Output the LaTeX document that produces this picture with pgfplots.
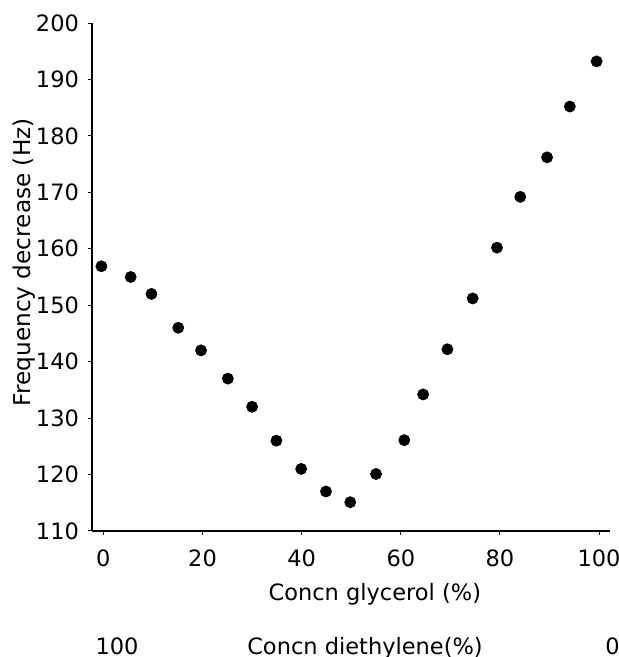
\documentclass[border=0pt]{standalone}
\usepackage{pgfplots}
\pgfplotsset{compat=1.18}
\usepackage{fontspec}
\setmainfont{DejaVu Sans}
\newcommand{\fs}{\fontsize{11.25pt}{13.5pt}\selectfont}
\begin{document}
\begin{tikzpicture}
\begin{axis}[
  width=259pt, height=254pt, scale only axis,
  xmin=-2.3, xmax=102.2, ymin=110, ymax=200,
  axis x line*=bottom, axis y line*=left,
  axis line style={line width=0.6pt, -},
  xtick={0,20,40,60,80,100},
  ytick={110,120,...,200},
  tick align=outside, major tick length=2pt,
  tick style={line width=0.5pt, black},
  /pgf/number format/assume math mode=true,
  ticklabel style={font=\fs},
  xticklabel shift=4pt,
  yticklabel shift=1pt,
  xlabel={Concn glycerol (\%)},
  xlabel style={font=\fs, at={(axis description cs:0.546,0)}, anchor=base, yshift=-34.5pt},
  ylabel={Frequency decrease (Hz)},
  ylabel style={font=\fontsize{11.6pt}{13.5pt}\selectfont, at={(axis description cs:-0.131,0.529)}, anchor=center},
  clip=false,
]
\addplot[only marks, mark=*, mark size=2.75pt, black] coordinates {
(-0.4,156.9) (5.5,155) (9.7,152) (15.1,146) (19.7,142) (25.1,137) (30,132)
(34.9,126) (39.9,121) (44.9,117) (49.8,115.1) (55,120.1) (60.7,126.1)
(64.5,134.2) (69.4,142.2) (74.5,151.2) (79.4,160.2) (84.1,169.2)
(89.5,176.2) (94.1,185.2) (99.5,193.2)
};
\end{axis}
\node[font=\fs, anchor=base] at ([shift={(12.5pt,-61.5pt)}]current axis.south west) {100};
\node[font=\fs, anchor=base] at ([shift={(136.5pt,-61.5pt)}]current axis.south west) {Concn diethylene(\%)};
\node[font=\fs, anchor=base west, inner sep=0pt] at ([shift={(256.5pt,-61.5pt)}]current axis.south west) {0};
\pgfresetboundingbox
\path[use as bounding box] ([shift={(-46pt,-63pt)}]current axis.south west) rectangle ++(309pt,328.5pt);
\end{tikzpicture}
\end{document}
